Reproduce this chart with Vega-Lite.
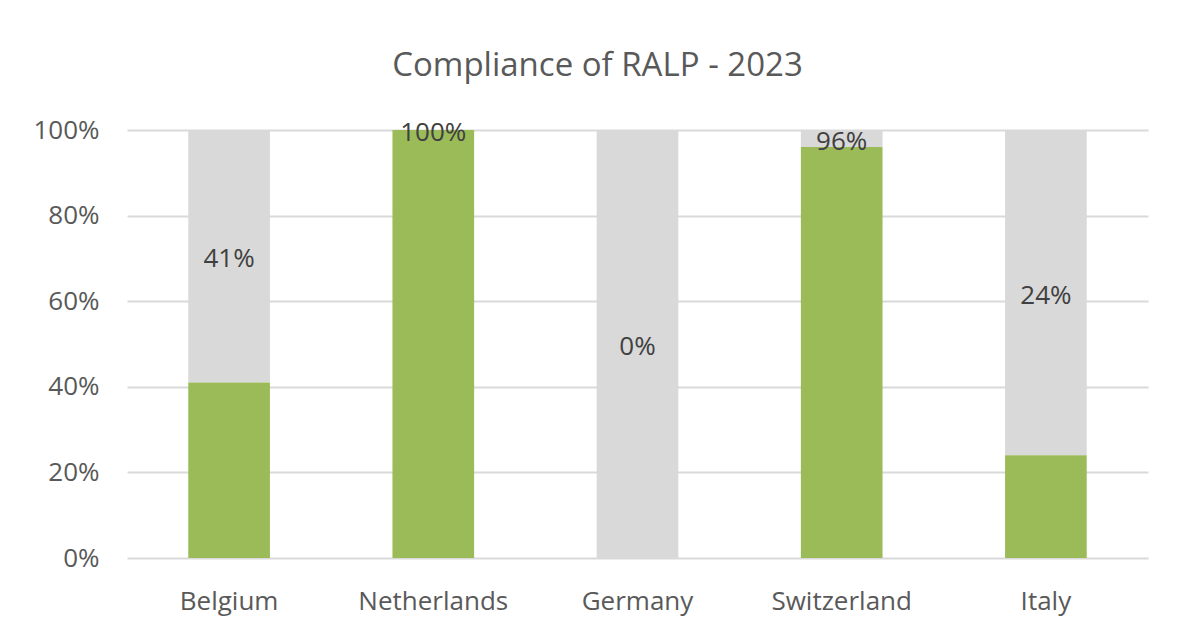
{
  "$schema": "https://vega.github.io/schema/vega-lite/v6.json",
  "autosize": "none",
  "width": 1021,
  "height": 428,
  "padding": {"left": 127, "top": 130, "right": 36, "bottom": 79},
  "background": "white",
  "config": {
    "font": "Open Sans",
    "view": {"stroke": null}
  },
  "title": {
    "text": "Compliance of RALP - 2023",
    "fontSize": 33,
    "fontWeight": "normal",
    "color": "#595959",
    "font": "Open Sans",
    "anchor": "middle",
    "frame": "group",
    "baseline": "alphabetic",
    "dx": -40,
    "offset": 8
  },
  "data": {
    "values": [
      {"country": "Belgium", "compliance": 0.41},
      {"country": "Netherlands", "compliance": 1.0},
      {"country": "Germany", "compliance": 0.0},
      {"country": "Switzerland", "compliance": 0.96},
      {"country": "Italy", "compliance": 0.24}
    ]
  },
  "transform": [
    {"calculate": "(datum.compliance + 1) / 2", "as": "labelPos"}
  ],
  "encoding": {
    "x": {
      "field": "country",
      "type": "nominal",
      "sort": null,
      "scale": {"paddingInner": 0.6, "paddingOuter": 0.3},
      "axis": {
        "title": null,
        "labelAngle": 0,
        "domain": false,
        "ticks": false,
        "labelFontSize": 26,
        "labelColor": "#595959",
        "labelFont": "Open Sans",
        "labelPadding": 30,
        "labelBaseline": "top"
      }
    }
  },
  "layer": [
    {
      "mark": {"type": "bar", "color": "#D9D9D9"},
      "encoding": {
        "y": {
          "field": "compliance",
          "type": "quantitative",
          "scale": {"domain": [0, 1]},
          "axis": {
            "title": null,
            "format": ".0%",
            "values": [0, 0.2, 0.4, 0.6, 0.8, 1],
            "domain": false,
            "ticks": false,
            "grid": true,
            "gridColor": "#D9D9D9",
            "gridWidth": 2,
            "labelFontSize": 26,
            "labelColor": "#595959",
            "labelFont": "Open Sans",
            "labelPadding": 28
          }
        },
        "y2": {"datum": 1}
      }
    },
    {
      "mark": {"type": "bar", "color": "#9BBB59"},
      "encoding": {
        "y": {"field": "compliance", "type": "quantitative"},
        "y2": {"datum": 0}
      }
    },
    {
      "mark": {
        "type": "text",
        "fontSize": 26,
        "color": "#404040",
        "font": "Open Sans",
        "baseline": "middle",
        "align": "center",
        "dy": 3
      },
      "encoding": {
        "y": {"field": "labelPos", "type": "quantitative"},
        "text": {"field": "compliance", "type": "quantitative", "format": ".0%"}
      }
    }
  ]
}
